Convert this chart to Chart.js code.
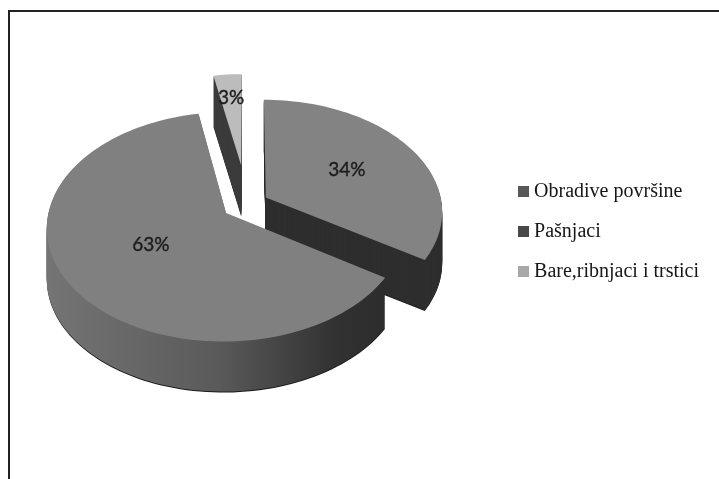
<!DOCTYPE html>
<html>
<head>
<meta charset="utf-8">
<script src="https://cdn.jsdelivr.net/npm/chart.js@4/dist/chart.umd.min.js"></script>
<style>
    html, body { margin: 0; padding: 0; background: #fff; overflow: hidden; }
    #frame { position: absolute; left: 8px; top: 10px; right: 0; bottom: 0; border-left: 2px solid #222; border-top: 2px solid #222; }
    #pie { position: absolute; left: 0; top: 0; filter: blur(0.5px); }
</style>
</head>
<body>
<div id="frame"></div>
<canvas id="pie" width="719" height="479"></canvas>
<script>
const categories = ['Obradive površine', 'Pašnjaci', 'Bare,ribnjaci i trstici'];
const shares = [34, 63, 3];
const shareLabels = ['34%', '63%', '3%'];

const topColors = ['#838383', '#808080', '#bcbcbc'];
const sideColors = ['#2e2e2e', null, '#3c3c3c'];
const legendColors = ['#585858', '#484848', '#a8a8a8'];

// how far each slice is pulled out, and where its label sits along the radius
const explode = [21.7, 25, 64];
const labelRadius = [0.55, 0.49, 0.72];

// fake 3D view of the pie plane
const view = { cx: 247, cy: 204, tilt: 0.63, persp: 0.12, radius: 176, depth: 50 };

function project(X, Y) {
    const s = 1 / (1 - view.persp * Y / view.radius);
    return { x: view.cx + X * s, y: view.cy + view.tilt * Y * s };
}

// small stand-in for the canvas context so ArcElement.draw goes through the projection
function projectedCtx(ctx, arc, pull, shiftY, forcedFill) {
    const mid = (arc.startAngle + arc.endAngle) / 2;
    const ox = Math.cos(mid) * pull - arc.x;
    const oy = Math.sin(mid) * pull - arc.y;
    const put = (x, y) => {
        const p = project(x + ox, y + oy);
        ctx.lineTo(p.x, p.y + shiftY);
    };
    return {
        save() {},
        restore() {},
        translate() {},
        beginPath() { ctx.beginPath(); },
        moveTo: put,
        lineTo: put,
        arc(x, y, r, a0, a1, ccw) {
            const steps = Math.max(2, Math.ceil(Math.abs(a1 - a0) * 30));
            let span = a1 - a0;
            if (ccw && span > 0) span = 0;
            for (let i = 0; i <= steps; i++) {
                const a = a0 + span * i / steps;
                put(x + Math.cos(a) * r, y + Math.sin(a) * r);
            }
        },
        closePath() { ctx.closePath(); },
        fill() { ctx.fill(); },
        stroke() {},
        clip() {},
        set fillStyle(v) { ctx.fillStyle = forcedFill || v; },
        set strokeStyle(v) {},
        set lineWidth(v) {},
        set lineJoin(v) {},
        set lineCap(v) {}
    };
}

const pie3d = {
    id: 'pie3d',
    beforeDatasetsDraw(chart) {
        const ctx = chart.ctx;
        const arcs = chart.getDatasetMeta(0).data;

        const sideGradient = ctx.createLinearGradient(50, 0, 385, 0);
        sideGradient.addColorStop(0, '#747474');
        sideGradient.addColorStop(0.5, '#5a5a5a');
        sideGradient.addColorStop(0.85, '#323232');
        sideGradient.addColorStop(1, '#2c2c2c');

        // back to front: small slice, right slice, big slice
        [2, 0, 1].forEach(i => {
            arcs[i].draw(projectedCtx(ctx, arcs[i], explode[i], view.depth + 1, '#1a1a1a'));
            for (let d = view.depth; d > 0; d--) {
                arcs[i].draw(projectedCtx(ctx, arcs[i], explode[i], d, sideColors[i] || sideGradient));
            }
            arcs[i].draw(projectedCtx(ctx, arcs[i], explode[i], 0, null));
        });

        ctx.save();
        ctx.font = '19px Lato';
        ctx.fillStyle = '#1d1d1d';
        ctx.strokeStyle = '#1d1d1d';
        ctx.lineWidth = 0.4;
        ctx.textAlign = 'center';
        ctx.textBaseline = 'middle';
        arcs.forEach((arc, i) => {
            const mid = (arc.startAngle + arc.endAngle) / 2;
            const r = explode[i] + labelRadius[i] * view.radius;
            const p = project(Math.cos(mid) * r, Math.sin(mid) * r);
            ctx.fillText(shareLabels[i], p.x, p.y);
            ctx.strokeText(shareLabels[i], p.x, p.y);
        });
        ctx.restore();
        return false;
    }
};

function legendBox(color) {
    const box = document.createElement('canvas');
    box.width = 11;
    box.height = 11;
    const c = box.getContext('2d');
    c.fillStyle = color;
    c.fillRect(0, 0, 11, 11);
    return box;
}

new Chart(document.getElementById('pie'), {
    type: 'pie',
    data: {
        labels: categories,
        datasets: [{
            data: shares,
            backgroundColor: topColors,
            borderWidth: 0
        }]
    },
    plugins: [pie3d],
    options: {
        responsive: false,
        animation: false,
        radius: view.radius,
        layout: { padding: { right: 10, bottom: 16 } },
        plugins: {
            tooltip: { enabled: false },
            legend: {
                position: 'right',
                labels: {
                    font: { family: 'Liberation Serif', size: 20 },
                    color: '#161616',
                    boxWidth: 1,
                    padding: 20,
                    usePointStyle: true,
                    generateLabels: chart => categories.map((text, i) => ({
                        text: text,
                        fontColor: '#161616',
                        pointStyle: legendBox(legendColors[i]),
                        lineWidth: 0,
                        index: i
                    }))
                }
            }
        }
    }
});
</script>
</body>
</html>
